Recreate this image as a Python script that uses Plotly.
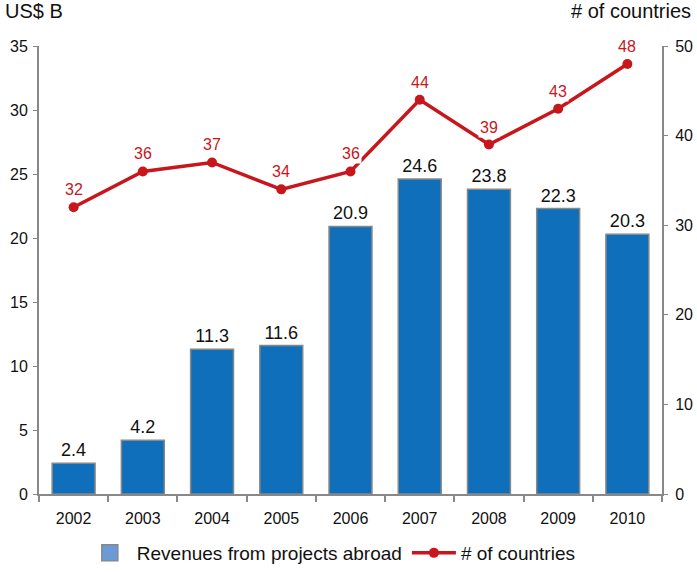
import plotly.graph_objects as go

years = ["2002", "2003", "2004", "2005", "2006", "2007", "2008", "2009", "2010"]
revenues = [2.4, 4.2, 11.3, 11.6, 20.9, 24.6, 23.8, 22.3, 20.3]
countries = [32, 36, 37, 34, 36, 44, 39, 43, 48]

FONT = "Liberation Sans, Arial, sans-serif"
BAR_BLUE = "#0F6FBA"
LEGEND_BLUE = "#6A9BD6"
RED = "#C8161D"
GREY = "#888888"

fig = go.Figure()

fig.add_trace(go.Bar(
    x=years, y=revenues,
    marker=dict(color=BAR_BLUE, line=dict(color=GREY, width=1.5)),
    width=0.62,
    text=[f"{v:.1f}" for v in revenues],
    textposition="outside",
    textfont=dict(family=FONT, size=18, color="#111111"),
    cliponaxis=False,
    showlegend=False,
    yaxis="y",
))

# legend entry for the bars: a large light-blue square swatch
fig.add_trace(go.Scatter(
    x=[years[0]], y=[None],
    name="Revenues from projects abroad",
    mode="markers",
    marker=dict(symbol="square", size=22, color=LEGEND_BLUE,
                line=dict(color=GREY, width=1.5)),
    showlegend=True,
    yaxis="y",
))

fig.add_trace(go.Scatter(
    x=years, y=countries,
    name="# of countries",
    mode="lines+markers",
    line=dict(color=RED, width=3.5),
    marker=dict(color=RED, size=10),
    cliponaxis=False,
    yaxis="y2",
))

# red value labels on a white box above each point
# (category index used for x so the year strings are not read as numbers)
labels = [
    dict(x=i, y=n, xref="x", yref="y2", text=str(n), showarrow=False,
         yanchor="bottom", yshift=7, bgcolor="white", borderpad=1,
         font=dict(family=FONT, size=16, color=RED))
    for i, n in enumerate(countries)
]

fig.update_layout(
    width=697, height=572,
    margin=dict(l=39, r=35, t=46, b=78, autoexpand=False),
    paper_bgcolor="white", plot_bgcolor="white",
    font=dict(family=FONT, size=16, color="#111111"),
    bargap=0.38,
    xaxis=dict(
        type="category",
        showline=True, linecolor=GREY, linewidth=2,
        ticks="outside", ticklen=6, tickcolor=GREY, tickwidth=1.5,
        tickson="boundaries",
        ticklabelstandoff=9,
        tickfont=dict(size=16),
        showgrid=False,
        range=[-0.5, 8.5],
    ),
    yaxis=dict(
        range=[0, 35], dtick=5,
        showline=True, linecolor=GREY, linewidth=2,
        ticks="outside", ticklen=4, tickcolor=GREY,
        ticklabelstandoff=2,
        showgrid=False, zeroline=False,
        tickfont=dict(size=16),
    ),
    yaxis2=dict(
        range=[0, 50], dtick=10,
        overlaying="y", side="right",
        showline=True, linecolor=GREY, linewidth=2,
        ticks="outside", ticklen=4, tickcolor=GREY,
        ticklabelstandoff=4,
        showgrid=False, zeroline=False,
        tickfont=dict(size=16),
    ),
    legend=dict(
        orientation="h", x=0.47, xanchor="center",
        yref="container", y=0.0, yanchor="bottom",
        font=dict(size=19),
        traceorder="normal",
        itemsizing="trace",
        itemwidth=44,
    ),
    annotations=labels + [
        dict(text="US$ B", xref="paper", yref="paper", x=-0.057, y=1.05,
             xanchor="left", yanchor="bottom", showarrow=False,
             font=dict(size=20)),
        dict(text="# of countries", xref="paper", yref="paper", x=1.05, y=1.05,
             xanchor="right", yanchor="bottom", showarrow=False,
             font=dict(size=20)),
    ],
)

fig.write_html("out.html")
